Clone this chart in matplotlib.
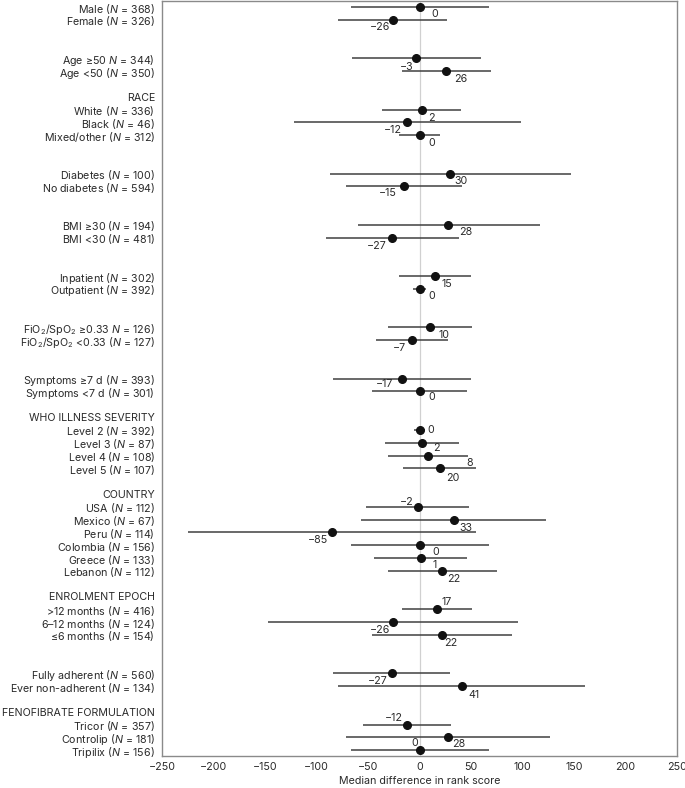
import matplotlib
matplotlib.use("Agg")
import matplotlib.pyplot as plt

plt.rcParams["font.family"] = ["Inter", "DejaVu Sans"]
plt.rcParams["mathtext.fontset"] = "custom"
plt.rcParams["mathtext.rm"] = "Inter"
plt.rcParams["mathtext.it"] = "Inter:italic"

FS = 7.7

# subgroups: (header, row labels)
groups = [
    (None, ["Male ($N$ = 368)", "Female ($N$ = 326)"]),
    (None, ["Age ≥50 $N$ = 344)", "Age <50 ($N$ = 350)"]),
    ("RACE", ["White ($N$ = 336)", "Black ($N$ = 46)", "Mixed/other ($N$ = 312)"]),
    (None, ["Diabetes ($N$ = 100)", "No diabetes ($N$ = 594)"]),
    (None, ["BMI ≥30 ($N$ = 194)", "BMI <30 ($N$ = 481)"]),
    (None, ["Inpatient ($N$ = 302)", "Outpatient ($N$ = 392)"]),
    (None, ["FiO$_2$/SpO$_2$ ≥0.33 $N$ = 126)", "FiO$_2$/SpO$_2$ <0.33 ($N$ = 127)"]),
    (None, ["Symptoms ≥7 d ($N$ = 393)", "Symptoms <7 d ($N$ = 301)"]),
    ("WHO ILLNESS SEVERITY", ["Level 2 ($N$ = 392)", "Level 3 ($N$ = 87)",
                              "Level 4 ($N$ = 108)", "Level 5 ($N$ = 107)"]),
    ("COUNTRY", ["USA ($N$ = 112)", "Mexico ($N$ = 67)", "Peru ($N$ = 114)",
                 "Colombia ($N$ = 156)", "Greece ($N$ = 133)", "Lebanon ($N$ = 112)"]),
    ("ENROLMENT EPOCH", [">12 months ($N$ = 416)", "6–12 months ($N$ = 124)",
                         "≤6 months ($N$ = 154)"]),
    (None, ["Fully adherent ($N$ = 560)", "Ever non-adherent ($N$ = 134)"]),
    ("FENOFIBRATE FORMULATION", ["Tricor ($N$ = 357)", "Controlip ($N$ = 181)",
                                 "Tripilix ($N$ = 156)"]),
]

median = [0, -26, -3, 26, 2, -12, 0, 30, -15, 28, -27, 15, 0, 10, -7, -17, 0,
          0, 2, 8, 20, -2, 33, -85, 0, 1, 22, 17, -26, 22, -27, 41, -12, 28, 0]
ci_low = [-67, -79, -66, -17, -36, -122, -20, -87, -71, -60, -91, -20, -6, -31, -42, -84, -46,
          -5, -34, -31, -16, -52, -57, -225, -67, -44, -31, -17, -147, -46, -84, -79, -55, -71, -67]
ci_high = [67, 27, 60, 69, 40, 98, 20, 147, 41, 117, 38, 50, 6, 51, 28, 50, 46,
           5, 38, 47, 55, 48, 123, 55, 67, 46, 75, 51, 96, 90, 30, 161, 31, 127, 67]

# value label offsets in pixels (dx, dy down)
label_offsets = [(15, 7), (-13, 7), (-10, 9), (14, 8), (10, 8), (-14, 8), (12, 8), (11, 7), (-16, 7),
                 (17, 7), (-15, 8), (12, 8), (12, 7), (14, 8), (-13, 8), (-17, 5), (12, 6),
                 (11, 0), (15, 5), (42, 7), (13, 10), (-11, -5), (12, 8), (-14, 8), (16, 7),
                 (14, 7), (12, 8), (10, -7), (-13, 8), (9, 8), (-14, 8), (12, 9),
                 (-13, -7), (10, 7), (-5, -7)]

rows, tick_pos, tick_labels = [], [], []
pos = -3
for header, items in groups:
    pos += 3
    if header:
        tick_pos.append(pos - 1)
        tick_labels.append(header)
    for lab in items:
        rows.append(pos)
        tick_pos.append(pos)
        tick_labels.append(lab)
        pos += 1
    pos -= 1

fig = plt.figure(figsize=(6.85, 7.88), dpi=100)
ax = fig.add_axes([0.2365, 0.0406, 0.752, 0.9585])

ax.axvline(0, color="#d0d0d0", lw=0.9, zorder=0)
ax.hlines(rows, ci_low, ci_high, color="#404040", lw=1.1, zorder=1)
ax.plot(median, rows, "o", color="#111111", ms=5.5, zorder=2)

for x, y, v, (dx, dy) in zip(median, rows, median, label_offsets):
    txt = str(v).replace("-", "−")
    ax.annotate(txt, (x, y), xytext=(dx, -dy), textcoords="offset pixels",
                ha="center", va="center", fontsize=FS, color="#2a2a2a")

ax.set_xlim(-250, 250)
ax.set_ylim(58.45, -0.5)
ax.set_xticks(range(-250, 251, 50))
ax.set_xticklabels([str(t).replace("-", "−") for t in range(-250, 251, 50)])
ax.set_yticks(tick_pos)
ax.set_yticklabels(tick_labels)
ax.tick_params(axis="both", length=0, labelsize=FS, colors="#2a2a2a")
ax.tick_params(axis="y", pad=5)
ax.tick_params(axis="x", pad=4)
ax.set_xlabel("Median difference in rank score", fontsize=FS, color="#2a2a2a", labelpad=3)
for s in ax.spines.values():
    s.set_color("#8a8a8a")
    s.set_linewidth(1.0)

fig.savefig("out.png", dpi=100)
